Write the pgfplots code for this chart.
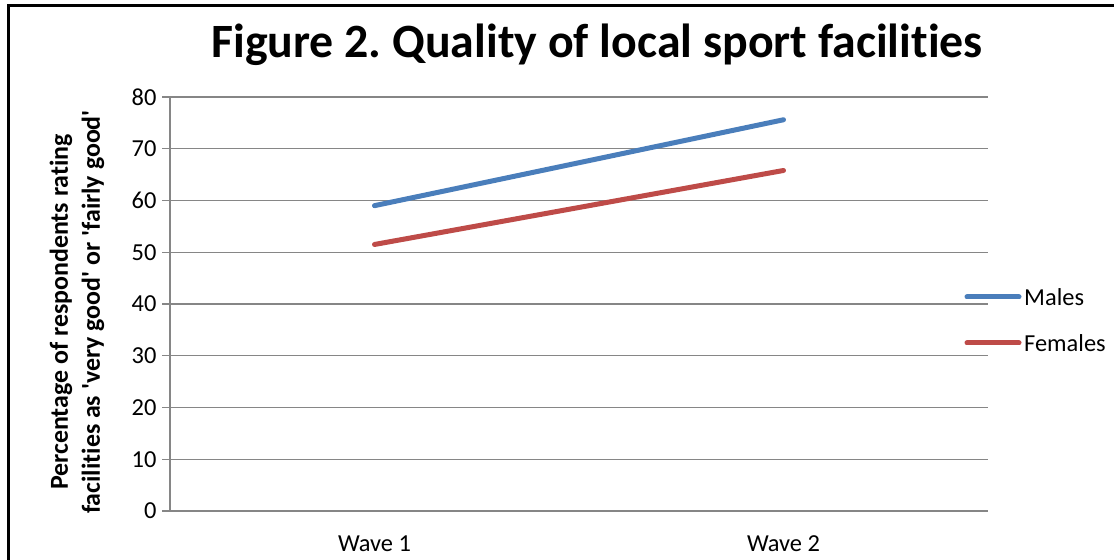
\documentclass[border=0pt]{standalone}
\usepackage{fontspec}
\setmainfont{Carlito}[Ligatures={NoCommon}]
\usepackage{pgfplots}
\pgfplotsset{compat=1.18}
\definecolor{males}{HTML}{4A7EBB}
\definecolor{females}{HTML}{BE4B48}
\definecolor{gridc}{HTML}{868686}
\frenchspacing
\begin{document}
\begin{tikzpicture}[x=1bp,y=1bp]
\useasboundingbox (0,0) rectangle (1114,560);
\fill[white] (0,0) rectangle (1114,560);
\draw[line width=3bp,black] (8,0) -- (8,554) -- (1114,554);
\node[font=\fontsize{48}{54}\selectfont\bfseries] at (597,515) {Figure 2. Quality of local sport facilities};
\node[rotate=90, font=\fontsize{26}{32}\selectfont\bfseries, align=center, inner sep=0pt] at (77,248) {Percentage of respondents rating\\facilities as \textquotesingle very good\textquotesingle{} or \textquotesingle fairly good\textquotesingle};
\begin{axis}[
  at={(170bp,49bp)}, anchor=south west,
  scale only axis, width=818bp, height=414bp,
  xmin=-0.5, xmax=1.5, ymin=0, ymax=80,
  axis x line=bottom, axis y line=left,
  axis line style={-, gridc, line width=1.3bp},
  ytick={0,10,...,80},
  ymajorgrids, grid style={gridc, line width=1.3bp},
  xtick={0,1}, xticklabels={Wave 1, Wave 2},
  major x tick style={draw=none},
  extra x ticks={-0.5,0.5,1.5}, extra x tick labels={},
  extra x tick style={major tick length=8bp, tick style={gridc, line width=1.3bp}, xmajorgrids=false, tick align=outside},
  tick align=outside, major tick length=8bp,
  tick style={gridc, line width=1.3bp},
  ticklabel style={font=\fontsize{24.5}{28}\selectfont},
  /pgf/number format/assume math mode=true,
  yticklabel style={xshift=-2bp},
  xticklabel style={yshift=-13bp},
  clip=false,
]
\addplot[males, line width=5bp, line cap=round] coordinates {(0,59.0) (1,75.6)};
\addplot[females, line width=5bp, line cap=round] coordinates {(0,51.5) (1,65.8)};
\end{axis}
\draw[males, line width=5bp, line cap=round] (967,263) -- (1019,263);
\draw[females, line width=5bp, line cap=round] (967,217) -- (1019,217);
\node[anchor=west, font=\fontsize{24.5}{28}\selectfont, inner sep=0pt] at (1024,263) {Males};
\node[anchor=west, font=\fontsize{24.5}{28}\selectfont, inner sep=0pt] at (1024,217) {Females};
\end{tikzpicture}
\end{document}
